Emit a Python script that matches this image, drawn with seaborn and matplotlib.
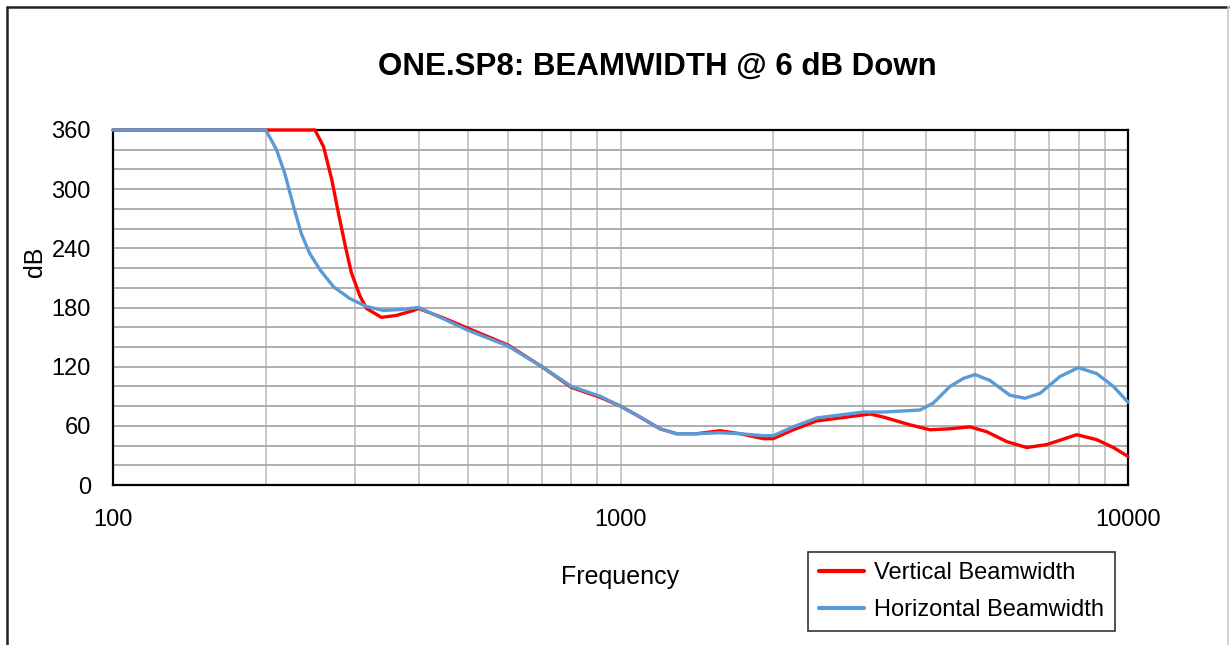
import numpy as np
import pandas as pd
import matplotlib
matplotlib.use('Agg')
import matplotlib.pyplot as plt
from matplotlib.lines import Line2D
from matplotlib.ticker import LogLocator, MultipleLocator, FixedLocator, NullFormatter
import seaborn as sns

# ========== DADOS ==========
freq_vert = [100, 150, 200, 250, 260, 270, 278, 287, 295, 307, 316, 338, 362, 391,
             400, 450, 500, 600, 700, 800, 911, 1000, 1092, 1196, 1290, 1413, 1570,
             1720, 1911, 2000, 2190, 2436, 2707, 3102, 3290, 3719, 4073, 4460, 4883,
             5268, 5768, 6317, 6917, 7924, 8675, 9357, 10000]
beam_vert = [360, 360, 360, 360, 343, 309, 276, 242, 215, 191, 179, 170, 172, 177,
             179, 169, 159, 142, 120, 99, 89, 80, 69, 57, 52, 52, 55,
             52, 47, 47, 56, 65, 68, 72, 69, 61, 56, 57, 59,
             54, 44, 38, 41, 51, 46, 38, 29]

freq_horiz = [100, 150, 200, 210, 218, 227, 235, 244, 256, 272, 293, 316, 341, 370,
              400, 450, 500, 600, 700, 800, 911, 1000, 1092, 1196, 1290, 1413, 1570,
              1720, 1911, 2000, 2190, 2436, 2707, 3010, 3290, 3890, 4133, 4460, 4737,
              4994, 5346, 5854, 6266, 6709, 7343, 7981, 8675, 9357, 10000]
beam_horiz = [360, 360, 360, 340, 316, 282, 255, 235, 218, 201, 189, 181, 177, 178,
              180, 168, 157, 141, 120, 100, 90, 80, 69, 57, 52, 52, 53,
              52, 50, 50, 59, 68, 71, 74, 74, 76, 83, 100, 108,
              112, 106, 91, 88, 93, 110, 119, 113, 100, 84]

series_names = ['Vertical Beamwidth', 'Horizontal Beamwidth']
y_ticks = [0, 60, 120, 180, 240, 300, 360]
x_ticks = [100, 1000, 10000]

df = pd.concat([
    pd.DataFrame({'freq': freq_vert, 'beam': beam_vert, 'serie': series_names[0]}),
    pd.DataFrame({'freq': freq_horiz, 'beam': beam_horiz, 'serie': series_names[1]}),
], ignore_index=True)

cores = {series_names[0]: '#ff0000', series_names[1]: '#5b9bd5'}

# ========== ESTILO ==========
sns.set_style('white')
plt.rcParams['font.family'] = ['Liberation Sans', 'DejaVu Sans']
plt.rcParams['text.color'] = 'black'
plt.rcParams['axes.labelcolor'] = 'black'
plt.rcParams['xtick.color'] = 'black'
plt.rcParams['ytick.color'] = 'black'

fig = plt.figure(figsize=(12.3, 6.45), dpi=100)
ax = fig.add_axes([113 / 1230, 1 - 485 / 645, 1015 / 1230, 355 / 645])

sns.lineplot(data=df, x='freq', y='beam', hue='serie', palette=cores,
             hue_order=series_names, sort=False, estimator=None,
             linewidth=2.4, ax=ax, legend=False)
for linha in ax.get_lines():
    linha.set_clip_on(False)
    linha.set_zorder(5)
    linha.set_solid_joinstyle('round')

ax.set_xscale('log')
ax.set_xlim(100, 10000)
ax.set_ylim(0, 360)

ax.xaxis.set_major_locator(FixedLocator(x_ticks))
ax.xaxis.set_minor_locator(LogLocator(base=10, subs=np.arange(2, 10)))
ax.xaxis.set_minor_formatter(NullFormatter())
ax.set_xticklabels([str(t) for t in x_ticks])
ax.yaxis.set_major_locator(FixedLocator(y_ticks))
ax.yaxis.set_minor_locator(MultipleLocator(20))

ax.tick_params(axis='both', which='both', direction='inout', color='black', width=1.2)
ax.tick_params(axis='both', which='major', length=12, labelsize=17)
ax.tick_params(axis='both', which='minor', length=10)
ax.tick_params(axis='x', which='major', pad=11)
ax.tick_params(axis='y', which='major', pad=10)

# grade
ax.grid(True, which='both', axis='x', color='#c4c4c4', linewidth=1.3)
ax.grid(True, which='both', axis='y', color='#a8a8a8', linewidth=1.3)

for lado in ['left', 'bottom', 'top', 'right']:
    ax.spines[lado].set_visible(True)
    ax.spines[lado].set_color('black')
    ax.spines[lado].set_linewidth(1.6)

ax.set_xlabel('Frequency', fontsize=18, labelpad=25)
ax.set_ylabel('dB', fontsize=18)
ax.yaxis.set_label_coords(-0.065, 0.63)

fig.text(657 / 1230, 1 - 67 / 645, 'ONE.SP8: BEAMWIDTH @ 6 dB Down',
         ha='center', va='center', fontsize=22.5, fontweight='bold')

# legenda
handles = [Line2D([0], [0], color=cores[n], linewidth=3) for n in series_names]
leg = fig.legend(handles, series_names, loc='center',
                 bbox_to_anchor=(961.5 / 1230, 1 - 591.5 / 645),
                 fontsize=17, frameon=True, fancybox=False, edgecolor='black',
                 handlelength=1.9, handletextpad=0.45, labelspacing=0.62,
                 borderpad=0.45, borderaxespad=0)
leg.get_frame().set_linewidth(1.2)

# moldura externa
fig.add_artist(Line2D([7 / 1230, 7 / 1230], [0, 1 - 7 / 645], color='#222222', linewidth=1.8))
fig.add_artist(Line2D([7 / 1230, 1228 / 1230], [1 - 7 / 645, 1 - 7 / 645], color='#222222', linewidth=1.8))
fig.add_artist(Line2D([1228 / 1230, 1228 / 1230], [0, 1 - 7 / 645], color='#c8c8c8', linewidth=1.2))

plt.savefig('out.png', dpi=100, facecolor='white')
